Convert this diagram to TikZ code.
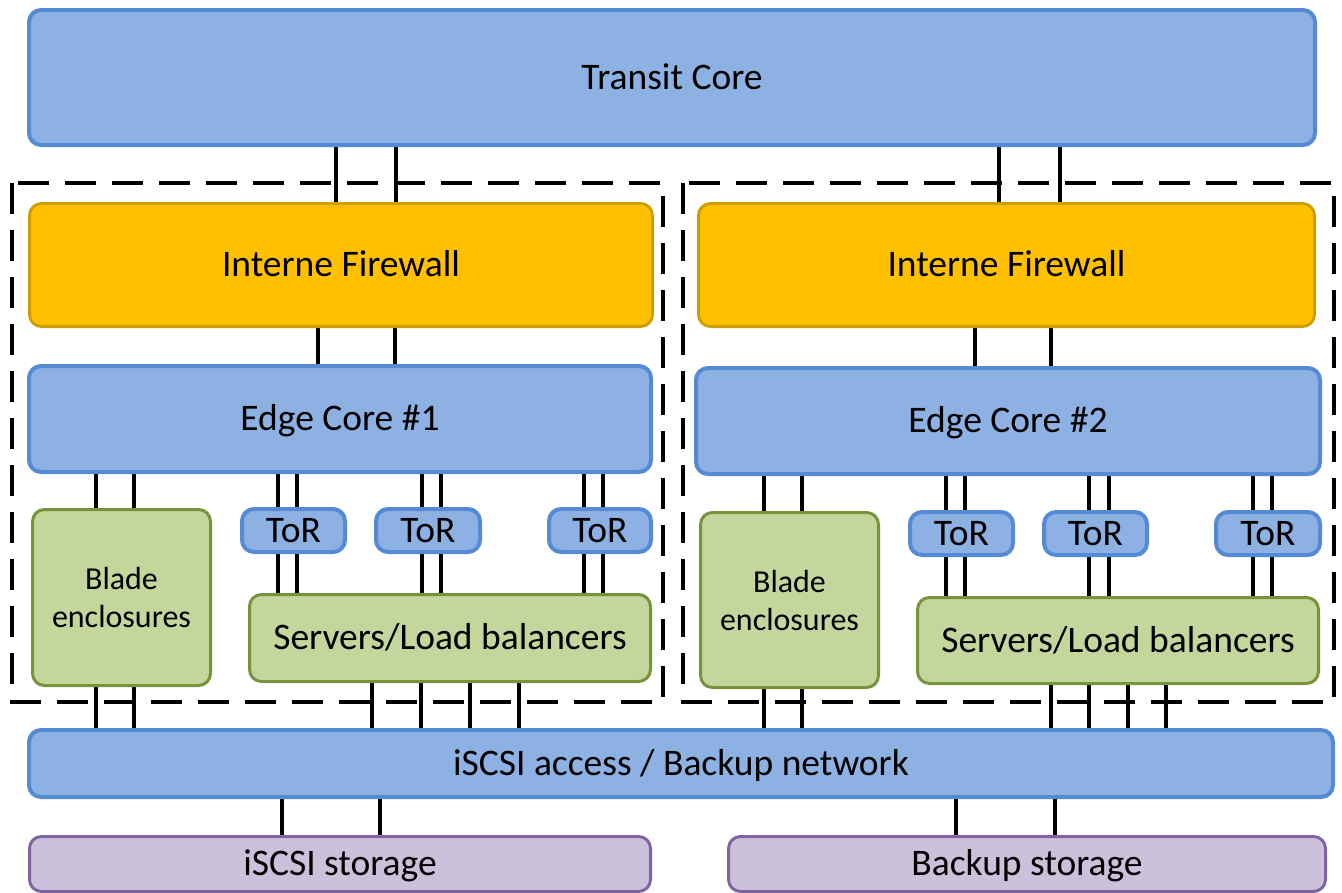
\documentclass[tikz,border=0pt]{standalone}
\usepackage{fontspec}
\setmainfont{Carlito}
\pgfdeclarelayer{bg}
\pgfsetlayers{bg,main}
\definecolor{bluefill}{HTML}{8DB1E3}
\definecolor{blueline}{HTML}{558BD4}
\definecolor{yelfill}{HTML}{FFC000}
\definecolor{yelline}{HTML}{CF9F00}
\definecolor{grnfill}{HTML}{C3D69B}
\definecolor{grnline}{HTML}{77933C}
\definecolor{purfill}{HTML}{CCC1DA}
\definecolor{purline}{HTML}{8064A2}
\newcommand\linkv[3]{\path (#1,0) coordinate (lk); \draw[conn] (#2.south -| lk) -- (#3.north -| lk);}
\begin{document}
\begin{tikzpicture}[x=1pt,y=-1pt,
  box/.style={rectangle, rounded corners=12pt, inner sep=0pt, outer sep=0pt,
    font=\fontsize{37.5}{45}\selectfont},
  capc/.style={text height=23.7pt, text depth=0pt},
  bluebox/.style={box, capc, fill=bluefill, draw=blueline, line width=4pt},
  yelbox/.style={box, capc, fill=yelfill, draw=yelline, line width=3pt},
  grnbox/.style={box, capc, fill=grnfill, draw=grnline, line width=3pt},
  bladebox/.style={box, fill=grnfill, draw=grnline, line width=3pt, align=center,
    font=\fontsize{32}{38}\selectfont},
  purbox/.style={box, capc, fill=purfill, draw=purline, line width=3pt},
  conn/.style={draw=black, line width=3.2pt},
  dashbox/.style={draw=black, line width=3.5pt, dash pattern=on 31pt off 16pt}
]
\useasboundingbox (0,0) rectangle (1342,892);

% dashed groups
\draw[dashbox] (12,183) rectangle (663,702);
\draw[dashbox] (683,183) rectangle (1334,702);

% nodes
\node[bluebox, minimum width=1286pt, minimum height=135pt] (tc) at (672,77.5) {Transit Core};
\node[yelbox, minimum width=623pt, minimum height=123pt] (fw1) at (341,265) {Interne Firewall};
\node[yelbox, minimum width=616pt, minimum height=123pt] (fw2) at (1006.5,265) {Interne Firewall};
\node[bluebox, minimum width=622pt, minimum height=106pt] (ec1) at (340,419) {Edge Core \#1};
\node[bluebox, minimum width=624pt, minimum height=106pt] (ec2) at (1008,421) {Edge Core \#2};

\node[bladebox, minimum width=178pt, minimum height=176pt] (bl1) at (121.5,597.5) {Blade\\enclosures};
\node[bladebox, minimum width=178pt, minimum height=175pt] (bl2) at (789.5,600) {Blade\\enclosures};

\node[bluebox, minimum width=103pt, minimum height=43pt] (t11) at (293.5,530.5) {ToR};
\node[bluebox, minimum width=104pt, minimum height=43pt] (t12) at (428,530.5) {ToR};
\node[bluebox, minimum width=102pt, minimum height=43pt] (t13) at (600,530.5) {ToR};
\node[bluebox, minimum width=103pt, minimum height=43pt] (t21) at (961.5,533.5) {ToR};
\node[bluebox, minimum width=103pt, minimum height=43pt] (t22) at (1095.5,533.5) {ToR};
\node[bluebox, minimum width=104pt, minimum height=43pt] (t23) at (1268,533.5) {ToR};

\node[grnbox, minimum width=401pt, minimum height=87pt] (sv1) at (450,638) {Servers/Load balancers};
\node[grnbox, minimum width=401pt, minimum height=86pt] (sv2) at (1118,640.5) {Servers/Load balancers};

\node[bluebox, minimum width=1304pt, minimum height=67pt] (net) at (681,763.5) {iSCSI access / Backup network};

\node[purbox, minimum width=621pt, minimum height=55pt] (st1) at (340,864) {iSCSI storage};
\node[purbox, minimum width=597pt, minimum height=55pt] (st2) at (1027,864) {Backup storage};

% connectors
\begin{pgfonlayer}{bg}
\foreach \x in {336,396} {\linkv{\x}{tc}{fw1}}
\foreach \x in {999,1060} {\linkv{\x}{tc}{fw2}}
\foreach \x in {318,395} {\linkv{\x}{fw1}{ec1}}
\foreach \x in {975,1051} {\linkv{\x}{fw2}{ec2}}
\foreach \x in {96,134} {\linkv{\x}{ec1}{bl1}}
\foreach \x in {278,297} {\linkv{\x}{ec1}{t11}\linkv{\x}{t11}{sv1}}
\foreach \x in {422,441} {\linkv{\x}{ec1}{t12}\linkv{\x}{t12}{sv1}}
\foreach \x in {584,603} {\linkv{\x}{ec1}{t13}\linkv{\x}{t13}{sv1}}
\foreach \x in {764,802} {\linkv{\x}{ec2}{bl2}}
\foreach \x in {946,965} {\linkv{\x}{ec2}{t21}\linkv{\x}{t21}{sv2}}
\foreach \x in {1089,1109} {\linkv{\x}{ec2}{t22}\linkv{\x}{t22}{sv2}}
\foreach \x in {1253,1272} {\linkv{\x}{ec2}{t23}\linkv{\x}{t23}{sv2}}
\foreach \x in {96,134} {\linkv{\x}{bl1}{net}}
\foreach \x in {372,421,470,519} {\linkv{\x}{sv1}{net}}
\foreach \x in {764,802} {\linkv{\x}{bl2}{net}}
\foreach \x in {1051,1089,1128,1166} {\linkv{\x}{sv2}{net}}
\foreach \x in {282,380} {\linkv{\x}{net}{st1}}
\foreach \x in {956,1055} {\linkv{\x}{net}{st2}}
\end{pgfonlayer}
\end{tikzpicture}
\end{document}
